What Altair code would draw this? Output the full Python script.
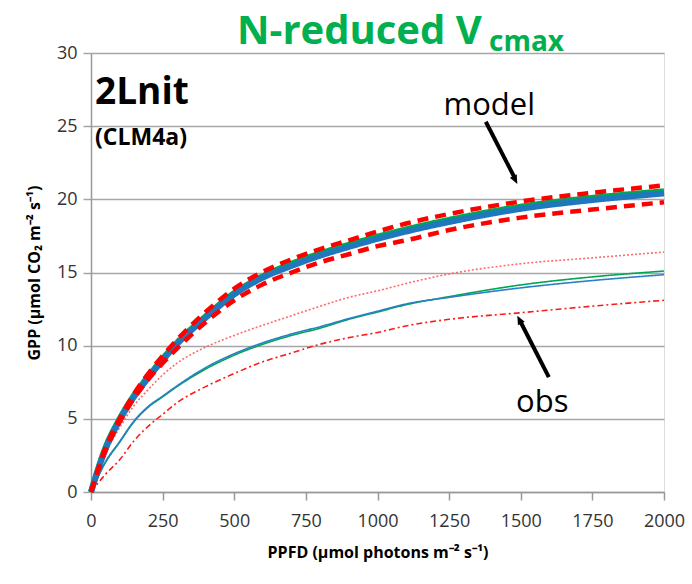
import altair as alt
import pandas as pd

ppfd = [0, 50, 100, 150, 200, 250, 300, 400, 500, 600, 700, 800, 900, 1000, 1100, 1250, 1500, 1750, 2000]

model_green = [0, 3.0, 5.0, 6.6, 7.9, 9.1, 10.2, 12.0, 13.6, 14.75, 15.6, 16.3, 16.9, 17.45, 17.95, 18.6, 19.5, 20.1, 20.55]
model_blue = [0, 2.9, 4.9, 6.5, 7.8, 9.0, 10.1, 11.9, 13.5, 14.65, 15.45, 16.15, 16.75, 17.3, 17.8, 18.45, 19.35, 19.95, 20.4]
model_upper = [0, 3.0, 5.0, 6.7, 8.1, 9.3, 10.4, 12.3, 13.9, 15.05, 15.9, 16.6, 17.2, 17.8, 18.35, 19.0, 19.85, 20.45, 20.95]
model_lower = [0, 2.8, 4.8, 6.4, 7.7, 8.8, 9.8, 11.6, 13.1, 14.2, 15.0, 15.7, 16.25, 16.8, 17.2, 17.9, 18.75, 19.3, 19.8]
obs_upper = [0, 2.6, 4.4, 5.9, 7.0, 8.0, 8.8, 9.9, 10.7, 11.4, 12.05, 12.7, 13.3, 13.75, 14.25, 14.9, 15.6, 16.0, 16.4]
obs_green = [0, 2.0, 3.4, 4.8, 5.8, 6.5, 7.2, 8.4, 9.35, 10.1, 10.7, 11.2, 11.8, 12.3, 12.8, 13.35, 14.15, 14.7, 15.1]
obs_blue = [0, 2.05, 3.45, 4.85, 5.85, 6.55, 7.25, 8.5, 9.45, 10.2, 10.8, 11.3, 11.85, 12.35, 12.85, 13.3, 13.95, 14.45, 14.85]
obs_lower = [0, 1.2, 2.2, 3.5, 4.5, 5.3, 6.1, 7.2, 8.1, 8.9, 9.5, 10.1, 10.55, 10.9, 11.35, 11.8, 12.25, 12.7, 13.1]

x_ticks = [0, 250, 500, 750, 1000, 1250, 1500, 1750, 2000]
y_ticks = [0, 5, 10, 15, 20, 25, 30]

# annotations (data coordinates)
model_label = {"x": 1390, "y": 26.4, "text": "model"}
obs_label = {"x": 1575, "y": 6.1, "text": "obs"}
model_arrow = {"x": 1378, "y": 25.3, "x2": 1478, "y2": 21.5}
model_tip = {"x": 1488, "y": 21.05}
obs_arrow = {"x": 1598, "y": 7.85, "x2": 1500, "y2": 11.6}
obs_tip = {"x": 1488, "y": 12.05}

series = [
    ("obs_green", obs_green, "#00A651", 1.6, [1, 0]),
    ("obs_blue", obs_blue, "#2A7FC6", 1.6, [1, 0]),
    ("obs_upper", obs_upper, "#FF6A6A", 1.6, [2, 2]),
    ("obs_lower", obs_lower, "#FF1A1A", 1.6, [6, 3, 2, 3]),
    ("model_green", model_green, "#00A651", 6, [1, 0]),
    ("model_blue", model_blue, "#1F78BE", 6, [1, 0]),
    ("model_upper", model_upper, "#FF0000", 4.5, [11, 7]),
    ("model_lower", model_lower, "#FF0000", 4.5, [11, 7]),
]

rows = []
for name, vals, *_ in series:
    for p, v in zip(ppfd, vals):
        rows.append({"ppfd": p, "gpp": v, "series": name})
df = pd.DataFrame(rows)

xscale = alt.Scale(domain=[0, 2000], nice=False)
yscale = alt.Scale(domain=[0, 30], nice=False)

FONT = "Open Sans"

base = alt.Chart(df)
layers = []
first = True
for name, vals, color, width, dash in series:
    if first:
        x_enc = alt.X("ppfd:Q", scale=xscale,
                      axis=alt.Axis(values=x_ticks, format="d", grid=False,
                                    title="PPFD (µmol photons m⁻² s⁻¹)",
                                    titleFont=FONT, titleFontSize=16, titleFontWeight="bold",
                                    titleColor="#000000", titlePadding=14,
                                    labelFont=FONT, labelFontSize=18, labelColor="#333333",
                                    labelPadding=12, tickSize=8, tickColor="#999999",
                                    domainColor="#999999", domainWidth=1.5, tickWidth=1.5,
                                    labelFlush=False))
        y_enc = alt.Y("gpp:Q", scale=yscale,
                      axis=alt.Axis(values=y_ticks, format="d", grid=True, gridColor="#A6A6A6",
                                    gridWidth=1.5,
                                    title="GPP (µmol CO₂ m⁻² s⁻¹)",
                                    titleFont=FONT, titleFontSize=16, titleFontWeight="bold",
                                    titleColor="#000000", titlePadding=14,
                                    labelFont=FONT, labelFontSize=18, labelColor="#333333",
                                    labelPadding=6, tickSize=8, tickColor="#A6A6A6",
                                    domainColor="#999999", domainWidth=1.5, tickWidth=1.5))
        first = False
    else:
        x_enc = alt.X("ppfd:Q", scale=xscale)
        y_enc = alt.Y("gpp:Q", scale=yscale)
    layers.append(
        base.transform_filter(alt.datum.series == name)
        .mark_line(color=color, strokeWidth=width, strokeDash=dash, interpolate="monotone")
        .encode(x=x_enc, y=y_enc)
    )

ann_df = pd.DataFrame([model_label, obs_label])
labels = alt.Chart(ann_df).mark_text(font=FONT, fontSize=31, color="black").encode(
    x=alt.X("x:Q", scale=xscale), y=alt.Y("y:Q", scale=yscale), text="text:N")

arr_df = pd.DataFrame([model_arrow, obs_arrow])
arrows = alt.Chart(arr_df).mark_rule(strokeWidth=4, color="black").encode(
    x=alt.X("x:Q", scale=xscale), y=alt.Y("y:Q", scale=yscale), x2="x2:Q", y2="y2:Q")

tips_df = pd.DataFrame([dict(model_tip, angle=153), dict(obs_tip, angle=333)])
tips = alt.Chart(tips_df).mark_point(shape="M0,0L-0.6,1.4L0.6,1.4Z", filled=True, color="black",
                                     opacity=1, size=160).encode(
    x=alt.X("x:Q", scale=xscale), y=alt.Y("y:Q", scale=yscale),
    angle=alt.Angle("angle:Q", scale=None))

# title and inner labels
title_main = alt.Chart(pd.DataFrame({"t": ["N-reduced V"]})).mark_text(
    font=FONT, fontSize=40, fontWeight="bold", color="#00B050", align="left", baseline="alphabetic"
).encode(x=alt.value(146), y=alt.value(-9), text="t:N")
title_sub = alt.Chart(pd.DataFrame({"t": ["cmax"]})).mark_text(
    font=FONT, fontSize=28, fontWeight="bold", color="#00B050", align="left", baseline="alphabetic"
).encode(x=alt.value(398), y=alt.value(-2), text="t:N")
lab1 = alt.Chart(pd.DataFrame({"t": ["2Lnit"]})).mark_text(
    font=FONT, fontSize=37, fontWeight="bold", color="black", align="left", baseline="alphabetic"
).encode(x=alt.value(4), y=alt.value(51), text="t:N")
lab2 = alt.Chart(pd.DataFrame({"t": ["(CLM4a)"]})).mark_text(
    font=FONT, fontSize=23, fontWeight="bold", color="black", align="left", baseline="alphabetic"
).encode(x=alt.value(4), y=alt.value(92), text="t:N")

chart = alt.layer(*layers, arrows, tips, labels, title_main, title_sub, lab1, lab2).properties(
    width=573, height=439,
    autosize=alt.AutoSizeParams(type="none"),
    padding={"left": 91, "top": 53, "right": 28, "bottom": 92},
).configure_view(stroke=None).configure(background="white")

chart.save("out.html", embed_options={"renderer": "svg", "actions": False})
